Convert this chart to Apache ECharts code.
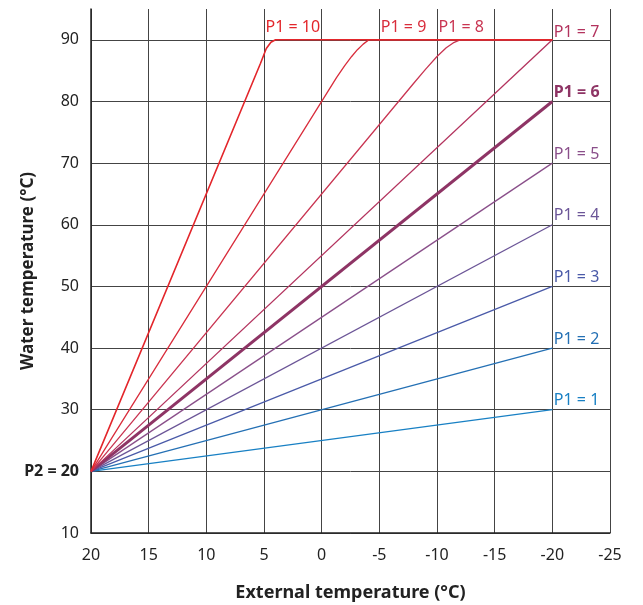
<!DOCTYPE html>
<html>
<head>
<meta charset="utf-8">
<script src="https://cdn.jsdelivr.net/npm/echarts@6/dist/echarts.min.js"></script>
<style>
  html, body { margin: 0; padding: 0; background: #fff; }
  #chart { width: 643px; height: 605px; }
</style>
</head>
<body>
<div id="chart"></div>
<script>
// external temperature ticks (axis runs 20 -> -25)
var xTicks = [20, 15, 10, 5, 0, -5, -10, -15, -20, -25];
var yTicks = [10, 20, 30, 40, 50, 60, 70, 80, 90];

// straight curves P1 = 1..7 : from (20, 20) to (-20, value)
var straightNames = ['P1 = 1', 'P1 = 2', 'P1 = 3', 'P1 = 4', 'P1 = 5', 'P1 = 6', 'P1 = 7'];
var straightStart = [20, 20];
var straightEnd = [30, 40, 50, 60, 70, 80, 90];

// curves capped at 90
var curveP8 = [[20, 20], [-8, 83], [-9, 85.2], [-10, 87.3], [-10.8, 88.7], [-11.4, 89.5], [-12, 90], [-20, 90]];
var curveP9 = [[20, 20], [-1.3, 83.9], [-2, 85.8], [-2.6, 87.3], [-3.1, 88.4], [-3.6, 89.3], [-4.1, 90], [-20, 90]];
var curveP10 = [[20, 20], [5.3, 86.2], [4.8, 88.6], [4.4, 89.6], [4.0, 90], [-20, 90]];

var colors = ['#1880c4', '#2470b4', '#4a5aa8', '#6b5597', '#8a4f8a', '#8e3465', '#b3335e', '#c93552', '#d92d3c', '#e3262b'];

var FONT = 'Noto Sans';

function labelPoint(coord, text, color, bold, dy) {
  return {
    coord: coord,
    symbol: 'circle',
    symbolSize: 1,
    itemStyle: { color: 'transparent' },
    label: {
      show: true,
      formatter: text,
      position: 'right',
      distance: 1,
      offset: [0, dy],
      color: color,
      fontFamily: FONT,
      fontSize: 16,
      fontWeight: bold ? 'bold' : 'normal'
    }
  };
}

var series = [];
straightNames.forEach(function (name, i) {
  var bold = name === 'P1 = 6';
  var dy = i === 6 ? -7 : -9;
  series.push({
    name: name,
    type: 'line',
    symbol: 'none',
    silent: true,
    lineStyle: { color: colors[i], width: bold ? 3 : 1.3 },
    data: [straightStart, [-20, straightEnd[i]]],
    markPoint: { silent: true, data: [labelPoint([-20, straightEnd[i]], name, colors[i], bold, dy)] }
  });
});

var curves = [
  { name: 'P1 = 8', data: curveP8, at: [-10, 90] },
  { name: 'P1 = 9', data: curveP9, at: [-5, 90] },
  { name: 'P1 = 10', data: curveP10, at: [5, 90] }
];
curves.forEach(function (c, j) {
  var col = colors[7 + j];
  series.push({
    name: c.name,
    type: 'line',
    symbol: 'none',
    silent: true,
    lineStyle: { color: col, width: j === 2 ? 1.6 : 1.3 },
    data: c.data,
    markPoint: { silent: true, data: [labelPoint(c.at, c.name, col, false, -12)] }
  });
});

var chart = echarts.init(document.getElementById('chart'));
chart.setOption({
  animation: false,
  grid: { left: 91, right: 33, top: 9, bottom: 72, outerBoundsMode: 'none', containLabel: false },
  xAxis: {
    type: 'value',
    inverse: true,
    min: -25,
    max: 20,
    interval: 5,
    name: 'External temperature (°C)',
    nameLocation: 'middle',
    nameGap: 51,
    nameMoveOverlap: false,
    nameTextStyle: { fontFamily: FONT, fontSize: 18, fontWeight: 'bold', color: '#222' },
    axisLine: { onZero: false, lineStyle: { color: '#222', width: 1.5 } },
    axisTick: { show: false },
    axisLabel: { fontFamily: FONT, fontSize: 16, color: '#222', margin: 14 },
    splitLine: { show: true, lineStyle: { color: '#444', width: 1 } }
  },
  yAxis: {
    type: 'value',
    min: 10,
    max: 95,
    interval: 10,
    name: 'Water temperature (°C)',
    nameLocation: 'middle',
    nameGap: 54,
    nameMoveOverlap: false,
    nameTextStyle: { fontFamily: FONT, fontSize: 17, fontWeight: 'bold', color: '#222' },
    axisLine: { show: true, onZero: false, lineStyle: { color: '#222', width: 1.5 } },
    axisTick: { show: false },
    axisLabel: {
      fontFamily: FONT,
      fontSize: 16,
      color: '#222',
      margin: 12,
      formatter: function (v) {
        if (yTicks.indexOf(v) < 0) return '';
        if (v === 20) return '{b|P2 = 20}';
        return String(v);
      },
      rich: { b: { fontFamily: FONT, fontSize: 16, fontWeight: 'bold', color: '#222' } }
    },
    splitLine: { show: true, showMaxLine: false, lineStyle: { color: '#444', width: 1 } }
  },
  series: series
});
</script>
</body>
</html>
